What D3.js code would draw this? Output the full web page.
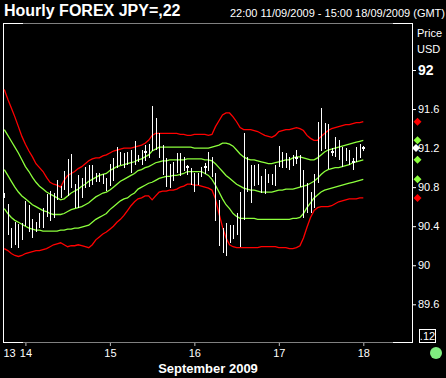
<!DOCTYPE html>
<html>
<head>
<meta charset="utf-8">
<script src="https://cdn.jsdelivr.net/npm/d3@7"></script>
<style>
  html, body { margin: 0; padding: 0; background: #000; }
  svg { display: block; font-family: "Liberation Sans", Arial, sans-serif; }
</style>
</head>
<body>
<svg id="chart" width="446" height="378"></svg>
<script>
// hourly bars, one per index
var barHigh = [
  90.74, 90.63, 90.38, 90.44, 90.42, 90.43, 90.66, 90.62, 90.47, 90.44,
  90.54, 90.59, 90.73, 90.76, 90.74, 90.87, 90.81, 90.97, 91.09, 91.14,
  90.83, 90.92, 90.89, 91.01, 91.03, 91.03, 90.95, 90.94, 90.93, 90.89,
  91.04, 91.10, 91.21, 91.16, 91.15, 91.16, 91.18, 91.27, 91.13, 91.18,
  91.23, 91.24, 91.63, 91.51, 91.35, 91.23, 91.10, 91.04, 91.06, 91.15,
  91.15, 91.11, 91.03, 91.00, 90.94, 90.94, 91.01, 91.05, 91.16, 91.11,
  90.95, 90.67, 90.38, 90.43, 90.41, 90.41, 90.54, 90.75, 91.35, 91.11,
  91.03, 91.03, 91.04, 90.91, 90.99, 90.93, 90.93, 91.03, 91.22, 91.16,
  91.15, 91.11, 91.13, 91.18, 91.13, 90.98, 90.84, 90.75, 90.93, 91.47,
  91.61, 91.46, 91.45, 91.20, 91.31, 91.28, 91.21, 91.20, 91.18, 91.10,
  91.21, 91.24, 91.22
];
var barLow = [
  90.69, 90.31, 90.18, 90.21, 90.18, 90.26, 90.40, 90.34, 90.28, 90.34,
  90.38, 90.38, 90.49, 90.45, 90.48, 90.67, 90.69, 90.77, 90.71, 90.79,
  90.59, 90.59, 90.69, 90.79, 90.80, 90.82, 90.85, 90.85, 90.83, 90.76,
  90.81, 90.86, 91.00, 91.03, 91.00, 91.03, 90.95, 91.03, 91.06, 91.03,
  91.07, 91.10, 91.17, 91.18, 91.10, 90.92, 90.80, 90.79, 90.86, 90.95,
  90.91, 90.97, 90.92, 90.82, 90.75, 90.82, 90.90, 90.93, 90.97, 90.90,
  90.45, 90.20, 90.13, 90.09, 90.23, 90.27, 90.31, 90.19, 90.46, 90.75,
  90.64, 90.81, 90.82, 90.74, 90.73, 90.84, 90.82, 90.81, 91.01, 91.00,
  91.00, 90.98, 91.02, 91.04, 90.80, 90.48, 90.54, 90.54, 90.59, 90.84,
  91.17, 91.19, 90.99, 91.12, 91.11, 91.08, 91.01, 91.07, 91.03, 90.98,
  91.06, 91.10, 91.17
];
// bars where a close tick shows
var markIdx = [40, 52, 57, 83, 93, 99, 102];
var markPrice = [91.16, 91.01, 91.01, 91.10, 91.16, 91.06, 91.20];

// envelope bands
var upperRed = [
  91.80, 91.70, 91.61, 91.52, 91.42, 91.32, 91.24, 91.17, 91.11, 91.04,
  91.00, 90.96, 90.90, 90.85, 90.83, 90.82, 90.80, 90.87, 90.92, 90.94,
  90.96, 90.99, 91.01, 91.04, 91.07, 91.09, 91.10, 91.10, 91.12, 91.13,
  91.15, 91.17, 91.18, 91.19, 91.20, 91.20, 91.20, 91.21, 91.22, 91.23,
  91.25, 91.28, 91.33, 91.35, 91.35, 91.35, 91.35, 91.35, 91.35, 91.35,
  91.34, 91.34, 91.33, 91.33, 91.34, 91.34, 91.34, 91.34, 91.33, 91.34,
  91.42, 91.48, 91.54, 91.56, 91.56, 91.52, 91.47, 91.41, 91.39, 91.39,
  91.39, 91.38, 91.37, 91.35, 91.33, 91.32, 91.31, 91.33, 91.37, 91.38,
  91.39, 91.39, 91.40, 91.41, 91.40, 91.38, 91.33, 91.30, 91.28, 91.28,
  91.32, 91.35, 91.38, 91.40, 91.41, 91.42, 91.43, 91.44, 91.44, 91.45,
  91.46, 91.46, 91.47
];
var upperGreen = [
  91.39, 91.33, 91.27, 91.21, 91.15, 91.08, 91.01, 90.96, 90.90, 90.85,
  90.81, 90.78, 90.75, 90.73, 90.71, 90.69, 90.67, 90.68, 90.71, 90.74,
  90.76, 90.78, 90.81, 90.83, 90.86, 90.88, 90.90, 90.92, 90.93, 90.94,
  90.97, 90.99, 91.01, 91.02, 91.03, 91.04, 91.05, 91.06, 91.08, 91.09,
  91.11, 91.13, 91.17, 91.19, 91.21, 91.21, 91.21, 91.21, 91.21, 91.21,
  91.21, 91.21, 91.21, 91.21, 91.20, 91.20, 91.20, 91.20, 91.20, 91.21,
  91.22, 91.23, 91.25, 91.25, 91.24, 91.22, 91.18, 91.14, 91.11, 91.09,
  91.08, 91.08, 91.07, 91.06, 91.05, 91.04, 91.04, 91.05, 91.06, 91.07,
  91.08, 91.08, 91.10, 91.11, 91.11, 91.10, 91.09, 91.08, 91.08, 91.10,
  91.13, 91.16, 91.18, 91.19, 91.20, 91.21, 91.22, 91.23, 91.24, 91.25,
  91.26, 91.27, 91.28
];
var midGreen = [
  90.98, 90.92, 90.86, 90.80, 90.75, 90.71, 90.68, 90.65, 90.62, 90.60,
  90.58, 90.56, 90.55, 90.53, 90.52, 90.52, 90.52, 90.53, 90.55, 90.57,
  90.58, 90.59, 90.60, 90.62, 90.64, 90.67, 90.70, 90.72, 90.74, 90.75,
  90.77, 90.80, 90.83, 90.86, 90.88, 90.90, 90.92, 90.94, 90.97, 90.98,
  91.00, 91.01, 91.03, 91.05, 91.06, 91.07, 91.07, 91.08, 91.08, 91.08,
  91.08, 91.08, 91.09, 91.09, 91.09, 91.09, 91.09, 91.08, 91.08, 91.07,
  91.04, 91.00, 90.96, 90.92, 90.89, 90.86, 90.83, 90.81, 90.79, 90.78,
  90.77, 90.77, 90.76, 90.75, 90.75, 90.75, 90.75, 90.76, 90.77, 90.77,
  90.78, 90.78, 90.78, 90.79, 90.80, 90.81, 90.82, 90.84, 90.86, 90.89,
  90.93, 90.96, 90.98, 90.99, 91.00, 91.00, 91.01, 91.02, 91.03, 91.05,
  91.06, 91.07, 91.08
];
var lowerGreen = [
  90.58, 90.53, 90.49, 90.46, 90.44, 90.42, 90.40, 90.38, 90.37, 90.36,
  90.36, 90.35, 90.35, 90.35, 90.35, 90.35, 90.36, 90.36, 90.37, 90.37,
  90.38, 90.38, 90.39, 90.40, 90.41, 90.44, 90.47, 90.49, 90.51, 90.53,
  90.57, 90.60, 90.63, 90.66, 90.68, 90.69, 90.72, 90.74, 90.78, 90.80,
  90.82, 90.84, 90.85, 90.87, 90.89, 90.90, 90.91, 90.91, 90.92, 90.92,
  90.93, 90.94, 90.96, 90.96, 90.96, 90.96, 90.96, 90.94, 90.92, 90.88,
  90.82, 90.75, 90.68, 90.62, 90.58, 90.53, 90.50, 90.48, 90.48, 90.48,
  90.48, 90.48, 90.47, 90.47, 90.47, 90.47, 90.47, 90.47, 90.47, 90.47,
  90.47, 90.47, 90.48, 90.48, 90.49, 90.53, 90.59, 90.64, 90.69, 90.72,
  90.75, 90.77, 90.78, 90.79, 90.80, 90.81, 90.82, 90.83, 90.84, 90.85,
  90.86, 90.87, 90.88
];
var lowerRed = [
  90.17, 90.15, 90.12, 90.10, 90.09, 90.10, 90.12, 90.13, 90.14, 90.15,
  90.15, 90.16, 90.17, 90.19, 90.21, 90.22, 90.23, 90.21, 90.19, 90.20,
  90.20, 90.21, 90.20, 90.19, 90.18, 90.21, 90.26, 90.29, 90.32, 90.34,
  90.37, 90.40, 90.44, 90.47, 90.51, 90.56, 90.61, 90.65, 90.68, 90.69,
  90.71, 90.71, 90.67, 90.71, 90.75, 90.76, 90.76, 90.77, 90.77, 90.78,
  90.80, 90.81, 90.83, 90.83, 90.82, 90.82, 90.81, 90.80, 90.79, 90.77,
  90.68, 90.53, 90.39, 90.28, 90.21, 90.19, 90.18, 90.18, 90.18, 90.18,
  90.18, 90.18, 90.18, 90.19, 90.19, 90.19, 90.19, 90.19, 90.18, 90.18,
  90.18, 90.17, 90.17, 90.18, 90.20, 90.28, 90.39, 90.49, 90.56, 90.59,
  90.60, 90.60, 90.60, 90.61, 90.63, 90.65, 90.66, 90.67, 90.68, 90.68,
  90.68, 90.69, 90.69
];
var lastClose = 91.20;

var dayIdx = [0, 6, 30, 54, 78, 102];
var dayLabels = ['13', '14', '15', '16', '17', '18'];
var priceTicks = [89.6, 90, 90.4, 90.8, 91.2, 91.6, 92];

var RED = '#ff0000', GREEN = '#8cff3c';

var svg = d3.select('#chart');
svg.append('rect').attr('width', 446).attr('height', 378).attr('fill', '#000');

var x = d3.scaleLinear().domain([0, barHigh.length - 1]).range([4.3, 363.3]);
var y = d3.scaleLinear().domain([89.6, 92]).range([304.3, 70]);

// title + range
svg.append('text').attr('x', 4).attr('y', 16)
    .attr('fill', '#fff').attr('font-size', 16).attr('font-weight', 'bold')
    .text('Hourly FOREX JPY=,22');
svg.append('text').attr('x', 445).attr('y', 17).attr('text-anchor', 'end')
    .attr('fill', '#fff').attr('font-size', 11)
    .text('22:00 11/09/2009 - 15:00 18/09/2009 (GMT)');

// frame
var frame = svg.append('g').attr('shape-rendering', 'crispEdges');
[23.5, 342.5].forEach(function(fy) {
    frame.append('line').attr('x1', 3).attr('x2', 412).attr('y1', fy).attr('y2', fy)
        .attr('stroke', '#808080');
    frame.append('line').attr('x1', 3).attr('x2', 23).attr('y1', fy).attr('y2', fy)
        .attr('stroke', '#fff');
    frame.append('line').attr('x1', 393).attr('x2', 413).attr('y1', fy).attr('y2', fy)
        .attr('stroke', '#fff');
});
frame.append('line').attr('x1', 3.5).attr('x2', 3.5).attr('y1', 23).attr('y2', 343).attr('stroke', '#fff');
frame.append('line').attr('x1', 412.5).attr('x2', 412.5).attr('y1', 23).attr('y2', 343).attr('stroke', '#fff');

// bands
var line = d3.line()
    .x(function(d, i) { return x(i); })
    .y(function(d) { return y(d); });

var bands = [
    { values: upperRed, color: RED },
    { values: upperGreen, color: GREEN },
    { values: midGreen, color: GREEN },
    { values: lowerGreen, color: GREEN },
    { values: lowerRed, color: RED }
];
svg.append('g').selectAll('path')
    .data(bands)
    .enter()
    .append('path')
    .attr('d', function(d) { return line(d.values); })
    .attr('fill', 'none')
    .attr('stroke', function(d) { return d.color; })
    .attr('stroke-width', 1.3);

// bars
var bars = svg.append('g').attr('shape-rendering', 'crispEdges');
bars.selectAll('line')
    .data(barHigh)
    .enter()
    .append('line')
    .attr('x1', function(d, i) { return Math.round(x(i)) + 0.5; })
    .attr('x2', function(d, i) { return Math.round(x(i)) + 0.5; })
    .attr('y1', function(d) { return y(d); })
    .attr('y2', function(d, i) { return y(barLow[i]); })
    .attr('stroke', '#fff')
    .attr('stroke-width', 1);

bars.selectAll('rect.tick')
    .data(markIdx)
    .enter()
    .append('rect')
    .attr('class', 'tick')
    .attr('x', function(d) { return Math.round(x(d)) - 1; })
    .attr('y', function(d, i) { return Math.round(y(markPrice[i])) - 1; })
    .attr('width', 3)
    .attr('height', 2)
    .attr('fill', '#fff');

// y axis on the right
var yAxis = d3.axisRight(y)
    .tickValues(priceTicks)
    .tickSize(4)
    .tickPadding(2)
    .tickFormat(function(d) { return d3.format('')(d); });

var ya = svg.append('g')
    .attr('transform', 'translate(412,0)')
    .call(yAxis);
ya.select('.domain').remove();
ya.selectAll('line').attr('stroke', '#fff');
ya.selectAll('text')
    .attr('fill', '#fff')
    .attr('font-family', '"Liberation Sans", Arial, sans-serif')
    .attr('font-size', function(d) { return d === 92 ? 14 : 11; })
    .attr('font-weight', function(d) { return d === 92 ? 'bold' : 'normal'; });

svg.append('text').attr('x', 417).attr('y', 37).attr('fill', '#fff').attr('font-size', 11).text('Price');
svg.append('text').attr('x', 417).attr('y', 52.5).attr('fill', '#fff').attr('font-size', 11).text('USD');

// last-value diamonds
var diamond = 'M0,-4L4,0L0,4L-4,0Z';
var lastMarks = [
    { v: upperRed[upperRed.length - 1], c: RED, dx: 417.5 },
    { v: upperGreen[upperGreen.length - 1], c: GREEN, dx: 417.5 },
    { v: midGreen[midGreen.length - 1], c: GREEN, dx: 417.5 },
    { v: lowerGreen[lowerGreen.length - 1], c: GREEN, dx: 417.5 },
    { v: lowerRed[lowerRed.length - 1], c: RED, dx: 417.5 },
    { v: lastClose, c: '#fff', dx: 416 }
];
svg.append('g').selectAll('path')
    .data(lastMarks)
    .enter()
    .append('path')
    .attr('d', diamond)
    .attr('transform', function(d) { return 'translate(' + d.dx + ',' + y(d.v) + ')'; })
    .attr('fill', function(d) { return d.c; });

// x axis
var xAxis = d3.axisBottom(x)
    .tickValues(dayIdx)
    .tickSize(3)
    .tickPadding(3)
    .tickFormat(function(d, i) { return dayLabels[i]; });

var xa = svg.append('g')
    .attr('transform', 'translate(0,343)')
    .call(xAxis);
xa.select('.domain').remove();
xa.selectAll('line').attr('stroke', '#bbb');
xa.selectAll('text')
    .attr('fill', '#fff')
    .attr('font-family', '"Liberation Sans", Arial, sans-serif')
    .attr('font-size', 11);
xa.selectAll('.tick').filter(function(d) { return d === 0; }).each(function() {
    d3.select(this).select('line').remove();
    d3.select(this).select('text').attr('text-anchor', 'start').attr('x', -1.3);
});

svg.append('text').attr('x', 208).attr('y', 373).attr('text-anchor', 'middle')
    .attr('fill', '#fff').attr('font-size', 13).attr('font-weight', 'bold')
    .text('September 2009');

// corner box and status dot
svg.append('rect').attr('x', 419.5).attr('y', 329.5).attr('width', 16).attr('height', 13)
    .attr('fill', 'none').attr('stroke', '#fff').attr('shape-rendering', 'crispEdges');
svg.append('text').attr('x', 427.5).attr('y', 340).attr('text-anchor', 'middle')
    .attr('fill', '#fff').attr('font-size', 11).text('.12');
svg.append('circle').attr('cx', 436).attr('cy', 353).attr('r', 6).attr('fill', '#80ee80');
</script>
</body>
</html>
